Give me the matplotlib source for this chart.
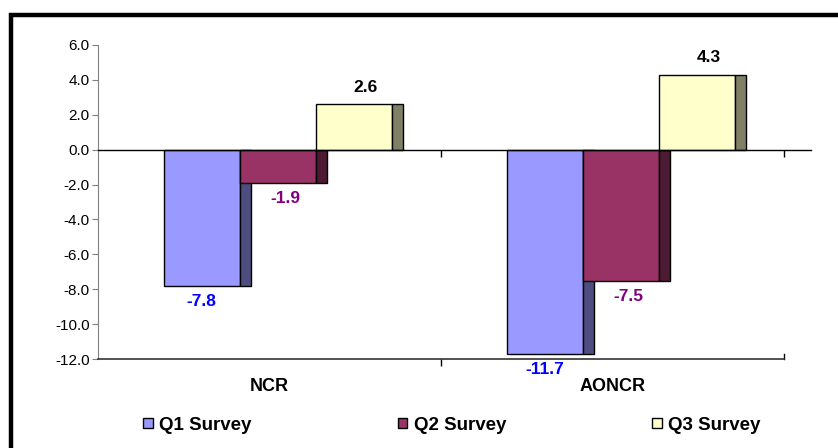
import matplotlib
matplotlib.use('Agg')
import matplotlib.pyplot as plt
import matplotlib.patches as mpatches
import numpy as np

plt.rcParams['font.family'] = ['Liberation Sans', 'DejaVu Sans']

# 数据
regions = ['NCR', 'AONCR']
series = ['Q1 Survey', 'Q2 Survey', 'Q3 Survey']
q1 = [-7.8, -11.7]
q2 = [-1.9, -7.5]
q3 = [2.6, 4.3]
values = [q1, q2, q3]

face_colors = ['#9999FF', '#993366', '#FFFFCC']
side_colors = ['#4D4D80', '#4D1A33', '#808066']
label_colors = ['#0000FF', '#800080', '#000000']
label_dx = [0, 8, 12]   # 标签水平偏移（像素）

fig = plt.figure(figsize=(8.38, 4.48), dpi=100)
W, H = 838, 448
ax = fig.add_axes([98 / W, (H - 359) / H, (784 - 98) / W, (359 - 45) / H])

bar_w = 76 / 343
side_w = 11 / 343
shift = 8 / 343
x = np.arange(len(regions))

for i, vals in enumerate(values):
    centers = x + shift + (i - 1) * bar_w
    ax.bar(centers, vals, width=bar_w, color=face_colors[i],
           edgecolor='black', linewidth=1, zorder=2)
    ax.bar(centers + bar_w / 2, vals, width=side_w, align='edge',
           color=side_colors[i], edgecolor='black', linewidth=1, zorder=2)
    for cx, v in zip(centers, vals):
        dy = 17 if v > 0 else -16
        ax.annotate(f'{v:.1f}', (cx, v), xytext=(label_dx[i], dy),
                    textcoords='offset pixels', ha='center', va='center',
                    fontsize=12.5, fontweight='bold', color=label_colors[i],
                    zorder=5, annotation_clip=False)

ax.set_xlim(-0.5, 1.5)
ax.set_ylim(-12, 6)
ax.set_yticks(np.arange(-12, 7, 2))
ax.set_yticklabels([f'{t:.1f}' for t in np.arange(-12, 7, 2)], fontsize=11)
ax.tick_params(axis='y', length=4, color='#808080', pad=2)

ax.set_xticks(x)
ax.set_xticklabels(regions, fontsize=13, fontweight='bold')
ax.tick_params(axis='x', length=0, pad=14)

for s in ['top', 'right', 'bottom']:
    ax.spines[s].set_visible(False)
ax.spines['left'].set_color('#808080')

# 零线和底线
ax.plot([-0.5, 1.58], [0, 0], color='black', lw=1, clip_on=False, zorder=3)
ax.plot([-0.5, 1.5], [-12, -12], color='#333333', lw=1.2, clip_on=False, zorder=3)
ax.plot([0.5, 1.5], [0, 0], marker=3, ms=5, color='black', ls='none', clip_on=False)
ax.plot([0.5], [-12], marker=3, ms=5, color='black', ls='none', clip_on=False)
ax.plot([1.5, 1.5], [-12, -11.7], color='black', lw=1, clip_on=False)

# 图例
handles = [mpatches.Patch(facecolor=c, edgecolor='black', linewidth=1) for c in face_colors]
fig.legend(handles, series, loc='center', bbox_to_anchor=(452 / W, (H - 425) / H),
           ncol=3, frameon=False, prop={'size': 13.5, 'weight': 'bold'},
           handlelength=0.5, handleheight=0.5, handletextpad=0.35,
           columnspacing=7.8)

# 外框
fig.patches.append(mpatches.Rectangle((10.5 / W, -0.1), 1.2, (H - 15) / H + 0.1,
                                      transform=fig.transFigure, fill=False,
                                      edgecolor='black', linewidth=3.2))

plt.savefig('out.png', dpi=100, facecolor='white')
plt.close()
